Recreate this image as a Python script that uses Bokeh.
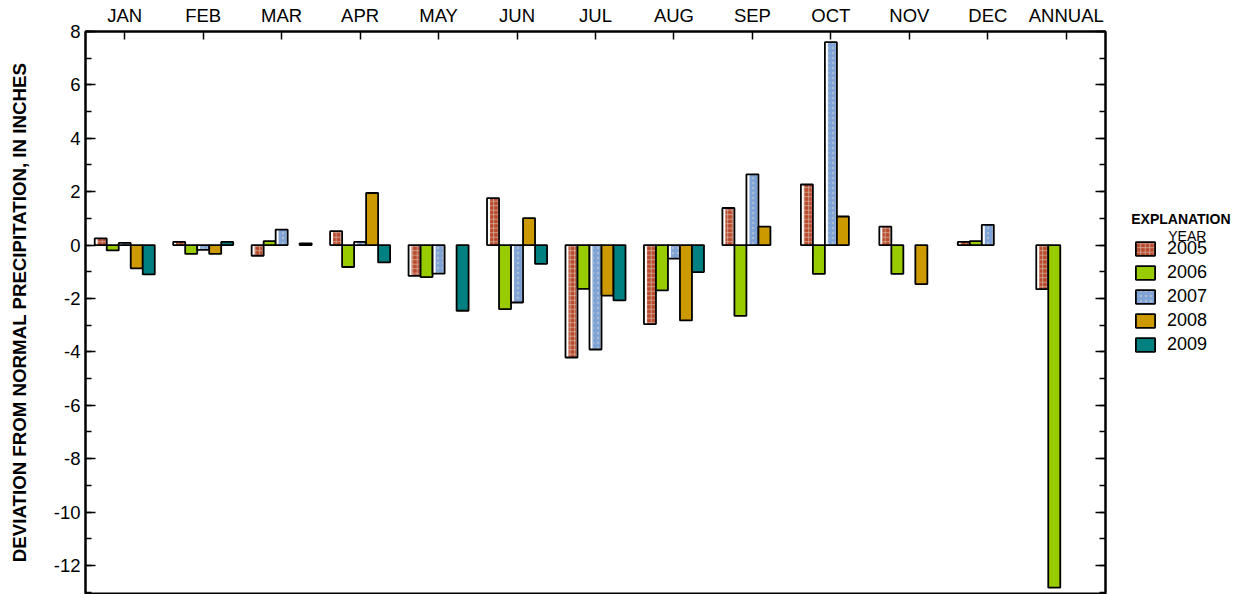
import numpy as np
from bokeh.plotting import figure
from bokeh.layouts import row
from bokeh.models import (FactorRange, Range1d, LinearAxis, SingleIntervalTicker,
                          Legend, LegendItem, Label, ColumnDataSource, CustomJSTickFormatter)
from bokeh.transform import dodge
from bokeh.embed import file_html
from bokeh.resources import INLINE

months = ["JAN", "FEB", "MAR", "APR", "MAY", "JUN", "JUL", "AUG", "SEP", "OCT", "NOV", "DEC", "ANNUAL"]
years = ["2005", "2006", "2007", "2008", "2009"]
nan = np.nan
dev_2005 = [0.25, 0.12, -0.40, 0.52, -1.15, 1.76, -4.21, -2.96, 1.39, 2.27, 0.69, 0.12, -1.65]
dev_2006 = [-0.20, -0.33, 0.15, -0.82, -1.20, -2.40, -1.64, -1.70, -2.65, -1.08, -1.08, 0.15, -12.83]
dev_2007 = [0.08, -0.18, 0.58, 0.12, -1.07, -2.15, -3.91, -0.51, 2.65, 7.60, nan, 0.76, nan]
dev_2008 = [-0.87, -0.33, nan, 1.95, nan, 1.01, -1.89, -2.82, 0.69, 1.07, -1.46, nan, nan]
dev_2009 = [-1.10, 0.12, 0.06, -0.65, -2.46, -0.70, -2.07, -1.01, nan, nan, nan, nan, nan]
y_ticks = [-12, -10, -8, -6, -4, -2, 0, 2, 4, 6, 8]

FONT = "Liberation Sans"
src = ColumnDataSource(dict(month=months,
                            y2005=np.array(dev_2005, dtype=float),
                            y2006=np.array(dev_2006, dtype=float),
                            y2007=np.array(dev_2007, dtype=float),
                            y2008=np.array(dev_2008, dtype=float),
                            y2009=np.array(dev_2009, dtype=float)))

p = figure(title=None, x_range=FactorRange(*months), y_range=Range1d(-13.05, 8),
           width=1115, height=594,
           min_border_left=85, min_border_right=10, min_border_top=31, min_border_bottom=1,
           x_axis_location="above", y_axis_location="left",
           output_backend="svg", toolbar_location=None, tools="")
p.xgrid.visible = False
p.ygrid.visible = False
p.outline_line_color = "black"
p.outline_line_width = 2

# top (category) axis
xa = p.xaxis[0]
xa.major_tick_in = 8
xa.major_tick_out = 0
xa.major_tick_line_width = 1.5
xa.axis_line_width = 2
xa.axis_line_color = "black"
xa.major_label_standoff = 6
xa.major_label_text_font = FONT
xa.major_label_text_font_size = "18.5px"
xa.major_label_text_color = "black"

# left axis
ya = p.yaxis[0]
ya.ticker = SingleIntervalTicker(interval=2, num_minor_ticks=2)
ya.major_label_overrides = {t: str(t) for t in y_ticks}
ya.major_tick_in = 10
ya.major_tick_out = 0
ya.minor_tick_in = 6
ya.minor_tick_out = 0
ya.major_tick_line_width = 1.5
ya.minor_tick_line_width = 1.5
ya.axis_line_width = 2
ya.major_label_standoff = 5
ya.major_label_text_font = FONT
ya.major_label_text_font_size = "18.5px"
ya.major_label_text_color = "black"
ya.axis_label = "DEVIATION FROM NORMAL PRECIPITATION, IN INCHES"
ya.axis_label_text_font = FONT
ya.axis_label_text_font_style = "bold"
ya.axis_label_text_font_size = "18.7px"
ya.axis_label_text_color = "black"
ya.axis_label_standoff = 21

# right axis (ticks only, no labels)
ra = LinearAxis(ticker=SingleIntervalTicker(interval=2, num_minor_ticks=2),
                formatter=CustomJSTickFormatter(code="return ''"),
                major_tick_in=10, major_tick_out=0, minor_tick_in=6, minor_tick_out=0,
                major_tick_line_width=1.5, minor_tick_line_width=1.5,
                axis_line_width=2, major_label_standoff=0)
p.add_layout(ra, "right")

w = 0.153
offsets = [-2 * w, -w, 0.0, w, 2 * w]
colors = {"2005": "#b94a2c", "2006": "#99cc00", "2007": "#7fa3d6", "2008": "#cc9900", "2009": "#008080"}
hatch = {"2005": dict(hatch_pattern="+", hatch_color="#d8bcae", hatch_scale=4.5, hatch_weight=0.7),
         "2007": dict(hatch_pattern="dot", hatch_color="#aebdd0", hatch_scale=5, hatch_weight=1)}
w_in = 0.102
off_in = 0.0128

# legend panel: a second, axis-less figure whose data units are page pixels
p2 = figure(title=None, width=129, height=594, x_range=Range1d(0, 129), y_range=Range1d(593, 31),
            min_border=0, x_axis_location=None, y_axis_location=None,
            output_backend="svg", toolbar_location=None, tools="")
p2.xgrid.visible = False
p2.ygrid.visible = False
p2.outline_line_color = None

items = []
for yr, off in zip(years, offsets):
    col = "y" + yr
    if yr in hatch:
        p.vbar(x=dodge("month", off, range=p.x_range), top=col, bottom=0, width=w,
               source=src, fill_color="white", line_color=None)
        p.vbar(x=dodge("month", off + off_in, range=p.x_range), top=col, bottom=0, width=w_in,
               source=src, fill_color=colors[yr], line_color=None, **hatch[yr])
        p.vbar(x=dodge("month", off, range=p.x_range), top=col, bottom=0, width=w,
               source=src, fill_color=None, line_color="black", line_width=1.8)
        l1 = p2.vbar(x=[0], top=[0], width=1, fill_color="white", line_color=None, visible=False)
        l2 = p2.vbar(x=[0], top=[0], width=1, fill_color=colors[yr], line_color=None,
                     visible=False, **hatch[yr])
        l3 = p2.vbar(x=[0], top=[0], width=1, fill_color=None, line_color="black",
                     line_width=1.8, visible=False)
        rs = [l1, l2, l3]
    else:
        p.vbar(x=dodge("month", off, range=p.x_range), top=col, bottom=0, width=w,
               source=src, fill_color=colors[yr], line_color="black", line_width=1.8)
        rs = [p2.vbar(x=[0], top=[0], width=1, fill_color=colors[yr], line_color="black",
                      line_width=1.8, visible=False)]
    items.append(LegendItem(label=yr, renderers=rs))

legend = Legend(items=items, location=(18, 238), orientation="vertical",
                glyph_width=24, glyph_height=17, label_standoff=10, spacing=3,
                padding=0, margin=0, border_line_color=None, background_fill_alpha=0,
                label_text_font=FONT, label_text_font_size="18px", label_text_color="black")
p2.add_layout(legend, "center")

p2.add_layout(Label(x=15.7, y=218.7, text="EXPLANATION", text_font=FONT, text_font_style="bold",
                    text_font_size="14px", text_baseline="middle", text_align="left", text_color="black"))
p2.add_layout(Label(x=52.7, y=235.5, text="YEAR", text_font=FONT,
                    text_font_size="14px", text_baseline="middle", text_align="left", text_color="black"))

layout = row(p, p2)
open("out.html", "w").write(file_html(layout, INLINE))
